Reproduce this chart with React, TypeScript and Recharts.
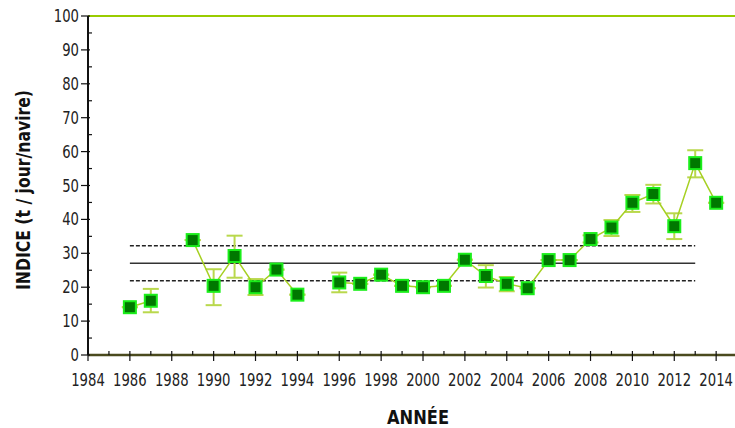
// Fishing index by year (t / jour/navire) with error bars, the period mean and ± band.
import { ErrorBar, Line, LineChart, ReferenceLine, XAxis, YAxis } from "recharts";

const YEARS = [
  1986, 1987, 1988, 1989, 1990, 1991, 1992, 1993, 1994, 1995, 1996, 1997, 1998, 1999, 2000,
  2001, 2002, 2003, 2004, 2005, 2006, 2007, 2008, 2009, 2010, 2011, 2012, 2013, 2014,
];
// null = no survey that year (the line breaks there)
const INDEX = [
  14.1, 16.0, null, 33.9, 20.4, 29.2, 20.0, 25.2, 17.8, null, 21.4, 21.0, 23.7, 20.4, 20.0,
  20.4, 28.1, 23.3, 21.0, 19.7, 28.0, 28.0, 34.2, 37.6, 44.9, 47.5, 38.0, 56.6, 44.9,
];
const ERR_LOW = [
  null, 12.6, null, null, 14.7, 22.8, 17.7, null, null, null, 18.5, null, null, null, null,
  null, null, 19.9, 18.8, null, null, null, 33.2, 35.1, 42.2, 44.7, 34.2, 52.4, null,
];
const ERR_HIGH = [
  null, 19.5, null, null, 25.3, 35.2, 22.4, null, null, null, 24.3, null, null, null, null,
  null, null, 26.5, 23.0, null, null, null, 35.3, 39.8, 47.2, 50.2, 41.8, 60.4, null,
];

const MEAN = 27.1;
const BAND_HIGH = 32.2;
const BAND_LOW = 21.9;
const BAND_FROM = 1986;
const BAND_TO = 2013;

const X_TICKS = Array.from({ length: 31 }, (_, i) => 1984 + i);
const Y_TICKS = Array.from({ length: 21 }, (_, i) => i * 5);

const FONT = "'DejaVu Sans', sans-serif";
// the original face is very narrow: squeeze digits to this width
const DIGIT_W = 8.4;

const data = YEARS.map((year, i) => {
  const v = INDEX[i];
  const lo = ERR_LOW[i];
  const hi = ERR_HIGH[i];
  return {
    year,
    index: v,
    err: v !== null && lo !== null && hi !== null ? [v - lo, hi - v] : [0, 0],
  };
});

function SquareDot(props: any) {
  const { cx, cy, payload } = props;
  if (payload.index === null || cx == null || cy == null) return null;
  return <rect x={cx - 6} y={cy - 6} width={12} height={12} fill="#007800" stroke="#1aee1a" strokeWidth={2} />;
}

function NarrowText({ x, y, value, anchor }: { x: number; y: number; value: string; anchor: string }) {
  return (
    <text
      x={x}
      y={y}
      textAnchor={anchor}
      fontFamily={FONT}
      fontSize={18}
      fill="#222"
      textLength={value.length * DIGIT_W}
      lengthAdjust="spacingAndGlyphs"
    >
      {value}
    </text>
  );
}

function XTick(props: any) {
  const { x, y, payload } = props;
  const major = payload.value % 2 === 0;
  return (
    <g>
      {major ? (
        <line x1={x} x2={x} y1={y - 4} y2={y + 6} stroke="#111" strokeWidth={1.2} />
      ) : (
        <line x1={x} x2={x} y1={y - 4} y2={y} stroke="#111" strokeWidth={1.2} />
      )}
      {major && <NarrowText x={x} y={y + 31} value={String(payload.value)} anchor="middle" />}
    </g>
  );
}

function YTick(props: any) {
  const { x, y, payload } = props;
  const major = payload.value % 10 === 0;
  return (
    <g>
      {major ? (
        <line x1={x - 7} x2={x + 2} y1={y} y2={y} stroke="#111" strokeWidth={1.2} />
      ) : (
        <line x1={x} x2={x + 4} y1={y} y2={y} stroke="#111" strokeWidth={1.2} />
      )}
      {major && <NarrowText x={x - 9} y={y + 6} value={String(payload.value)} anchor="end" />}
    </g>
  );
}

function XTitle() {
  return (
    <text
      x={418}
      y={424}
      textAnchor="middle"
      fontFamily={FONT}
      fontSize={19}
      fontWeight="bold"
      fill="#111"
      textLength={62}
      lengthAdjust="spacingAndGlyphs"
    >
      ANNÉE
    </text>
  );
}

function YTitle() {
  return (
    <text
      x={0}
      y={0}
      transform="translate(30, 190) rotate(-90)"
      textAnchor="middle"
      fontFamily={FONT}
      fontSize={20}
      fontWeight="bold"
      fill="#111"
      textLength={200}
      lengthAdjust="spacingAndGlyphs"
    >
      INDICE  (t / jour/navire)
    </text>
  );
}

export default function App() {
  return (
    <div style={{ position: "absolute", left: 0, top: 0, background: "#fff" }}>
      <LineChart width={735} height={428} data={data} margin={{ top: 16, right: 0, bottom: 13, left: 28 }}>
        <XAxis
          dataKey="year"
          type="number"
          domain={[1984, 2014.9]}
          ticks={X_TICKS}
          interval={0}
          tick={<XTick />}
          tickLine={false}
          tickSize={0}
          tickMargin={0}
          height={60}
          axisLine={{ stroke: "#4a4a1e", strokeWidth: 2.5 }}
          label={{ content: () => <XTitle /> }}
        />
        <YAxis
          type="number"
          domain={[0, 100]}
          ticks={Y_TICKS}
          interval={0}
          tick={<YTick />}
          tickLine={false}
          tickSize={0}
          tickMargin={0}
          width={60}
          axisLine={{ stroke: "#111", strokeWidth: 2 }}
          label={{ content: () => <YTitle /> }}
        />
        <ReferenceLine y={100} stroke="#99cc00" strokeWidth={2} />
        <ReferenceLine
          segment={[{ x: BAND_FROM, y: BAND_HIGH }, { x: BAND_TO, y: BAND_HIGH }]}
          stroke="#222"
          strokeWidth={1.5}
          strokeDasharray="4 2"
        />
        <ReferenceLine
          segment={[{ x: BAND_FROM, y: MEAN }, { x: BAND_TO, y: MEAN }]}
          stroke="#333"
          strokeWidth={1.5}
        />
        <ReferenceLine
          segment={[{ x: BAND_FROM, y: BAND_LOW }, { x: BAND_TO, y: BAND_LOW }]}
          stroke="#222"
          strokeWidth={1.5}
          strokeDasharray="4 2"
        />
        <Line
          dataKey="index"
          stroke="#a6d022"
          strokeWidth={1.5}
          dot={<SquareDot />}
          activeDot={false}
          connectNulls={false}
          isAnimationActive={false}
        >
          <ErrorBar dataKey="err" direction="y" stroke="#b9d84c" strokeWidth={2} width={8} />
        </Line>
      </LineChart>
    </div>
  );
}
